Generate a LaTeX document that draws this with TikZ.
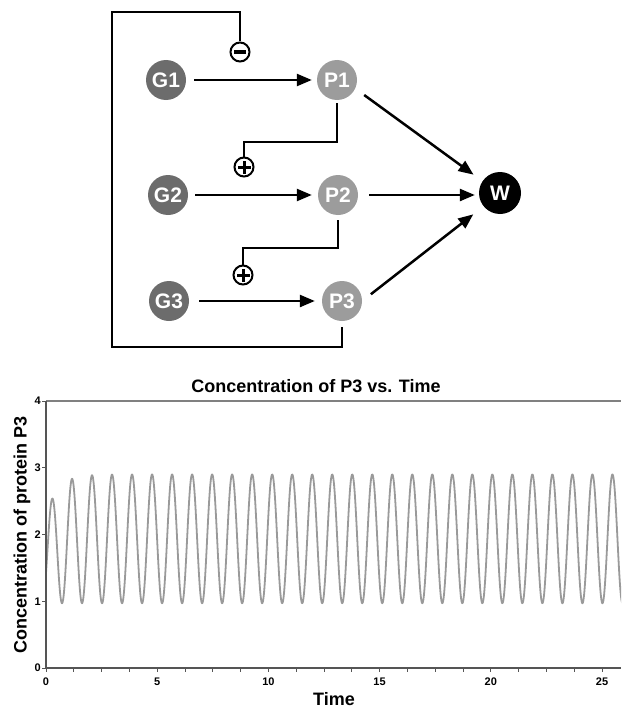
\documentclass[tikz,border=0pt]{standalone}
\usepackage{fontspec}
\setmainfont{Liberation Sans}
\usetikzlibrary{arrows.meta}
\definecolor{gcol}{HTML}{6C6C6C}
\definecolor{pcol}{HTML}{9C9C9C}
\definecolor{curvecol}{HTML}{9A9A9A}
\definecolor{axcol}{HTML}{555555}
\tikzset{
  gnode/.style={circle,fill=gcol,minimum size=40pt,inner sep=0pt,text=white,font=\fontsize{21}{21}\selectfont\bfseries},
  pnode/.style={gnode,fill=pcol},
  wnode/.style={gnode,fill=black,minimum size=42pt},
  sign/.style={circle,draw=black,line width=2pt,fill=white,minimum size=19pt,inner sep=0pt},
  minussign/.style={sign,path picture={\fill[black] (path picture bounding box.center) ++(-6,-1.8) rectangle ++(12,3.6);}},
  plussign/.style={sign,path picture={
     \fill[black] (path picture bounding box.center) ++(-6.5,-1.5) rectangle ++(13,3);
     \fill[black] (path picture bounding box.center) ++(-1.5,-6.5) rectangle ++(3,13);}},
  arr/.style={line width=2.5pt,-{Triangle[length=15pt,width=12pt]}},
  fb/.style={line width=2.2pt},
  big/.style={font=\fontsize{18}{18}\selectfont\bfseries},
  ticklab/.style={font=\fontsize{11}{11}\selectfont\bfseries,inner sep=0pt},
}
\begin{document}
\begin{tikzpicture}[x=1pt,y=-1pt]
\useasboundingbox (0,0) rectangle (621,709);
% network
\node[gnode] (G1) at (166,80) {G1};
\node[pnode] (P1) at (337,80) {P1};
\node[gnode] (G2) at (168,195) {G2};
\node[pnode] (P2) at (338,195) {P2};
\node[gnode] (G3) at (169,301) {G3};
\node[pnode] (P3) at (342,301) {P3};
\node[wnode] (W) at (500,193) {W};
\node[minussign] (minus) at (240,52) {};
\node[plussign] (plus1) at (244,167) {};
\node[plussign] (plus2) at (243,275) {};
\coordinate (lc1) at (112,347);
\coordinate (lc2) at (112,12);

\draw[arr,shorten <=8pt,shorten >=5pt] (G1) -- (P1);
\draw[arr,shorten <=7pt,shorten >=6pt] (G2) -- (P2);
\draw[arr,shorten <=10pt,shorten >=7pt] (G3) -- (P3);
\draw[arr,shorten <=11pt,shorten >=11pt] (P1.335) -- (W.146);
\draw[arr,shorten <=11pt,shorten >=4pt] (P2.east) -- (W.west |- P2.east);
\draw[arr,shorten <=11pt,shorten >=13pt] (P3.east) -- (W.219);

\draw[fb,shorten <=3pt] (P1.south) -- ++(0,42) -| (plus1.north);
\draw[fb,shorten <=5pt] (P2.south) -- ++(0,33) -| (plus2.north);
\draw[fb,shorten <=6pt] (P3.south) |- (lc1) -- (lc2) -| (minus.north);

% plot
\node[big,anchor=base] (title) at (316,392) {Concentration of P3 vs. Time};
\node[big,anchor=base,rotate=90] (ylab) at (26.5,534.5) {Concentration of protein P3};
\node[big,anchor=base] (xlab) at (334,705) {Time};

\draw[line width=1.2pt,color=gray] (46,401) -- (621,401);
\begin{scope}
\clip (46,380) rectangle (621,668);
\draw[curvecol,line width=1.8pt,line join=round]
  plot[domain=0:25.92,samples=1441]
  ({46+22.24*\x},{668-66.75*(0.97+1.93*(1-0.32*exp(-\x/0.52))*(1-cos(400*(\x-0.72)))/2)});
\end{scope}
\draw[line width=1.6pt,color=axcol] (46,401) -- (46,668);
\draw[line width=1.8pt,color=axcol] (45,668) -- (621,668);
\foreach \i in {0,...,20} \draw[line width=1pt,color=axcol] ({46+22.24*1.25*\i},668) -- ++(0,4);
\foreach \v in {0,...,4} {
  \draw[line width=1pt,color=axcol] (46,{668-66.75*\v}) -- ++(-4,0);
  \node[ticklab,anchor=east] (yl\v) at (41,{668-66.75*\v}) {\v};
}
\foreach \t in {0,5,10,15,20,25}
  \node[ticklab,anchor=base] (xl\t) at ({46+22.24*\t},685) {\t};
\end{tikzpicture}
\end{document}
